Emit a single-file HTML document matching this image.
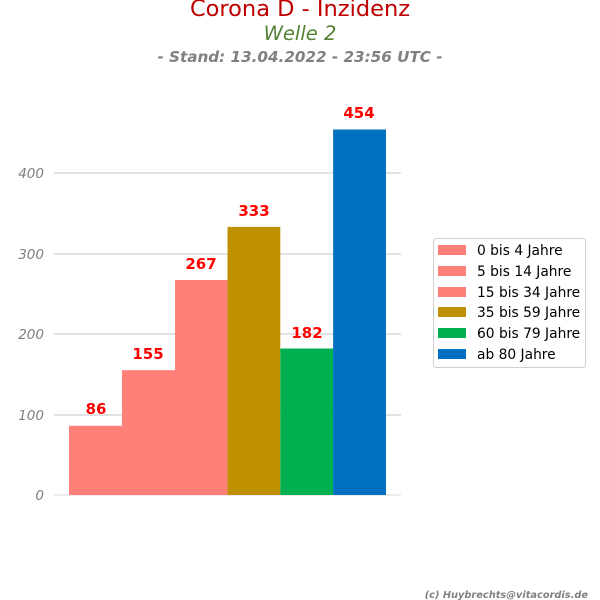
<html><body style="margin:0;background:#fff">
<svg width="600" height="600" xmlns="http://www.w3.org/2000/svg" font-family="DejaVu Sans, sans-serif">
<text x="300" y="16" text-anchor="middle" font-size="22.5" fill="#c00000">Corona D - Inzidenz</text>
<text x="300" y="40" text-anchor="middle" font-size="19.5" font-style="italic" fill="#548235">Welle 2</text>
<text x="300" y="62" text-anchor="middle" font-size="15.2" font-style="italic" font-weight="bold" fill="#808080">- Stand: 13.04.2022 - 23:56 UTC -</text>
<g stroke="#d9d9d9" stroke-width="1.5">
<line x1="54" x2="401" y1="173" y2="173"/><line x1="54" x2="401" y1="254" y2="254"/><line x1="54" x2="401" y1="334" y2="334"/><line x1="54" x2="401" y1="415" y2="415"/><line x1="54" x2="401" y1="495" y2="495" stroke-width="1"/>
</g>
<g font-size="13.5" font-style="italic" fill="#808080" text-anchor="end">
<text x="44" y="178">400</text><text x="44" y="259">300</text><text x="44" y="339">200</text><text x="44" y="420">100</text><text x="44" y="500">0</text>
</g>
<rect x="69" y="425.8" width="53" height="69.2" fill="#ff7f79"/>
<rect x="122" y="370.2" width="53" height="124.8" fill="#ff7f79"/>
<rect x="175" y="280" width="52.5" height="215" fill="#ff7f79"/>
<rect x="227.5" y="226.9" width="52.8" height="268.1" fill="#bf9000"/>
<rect x="280.3" y="348.5" width="52.8" height="146.5" fill="#00b050"/>
<rect x="333.1" y="129.5" width="52.9" height="365.5" fill="#0070c0"/>
<g font-size="15" font-weight="bold" fill="#ff0000" text-anchor="middle">
<text x="96" y="414">86</text><text x="148" y="359">155</text><text x="201" y="269">267</text><text x="254" y="216">333</text><text x="307" y="338">182</text><text x="359" y="118">454</text>
</g>
<rect x="433.5" y="238.5" width="152" height="129" rx="3" fill="#fff" stroke="#d0d0d0"/>
<rect x="438" y="245" width="28" height="10" fill="#ff7f79"/>
<rect x="438" y="266" width="28" height="10" fill="#ff7f79"/>
<rect x="438" y="287" width="28" height="10" fill="#ff7f79"/>
<rect x="438" y="307" width="28" height="10" fill="#bf9000"/>
<rect x="438" y="328" width="28" height="10" fill="#00b050"/>
<rect x="438" y="349" width="28" height="10" fill="#0070c0"/>
<g font-size="13.8" fill="#000">
<text x="477" y="255">0 bis 4 Jahre</text><text x="477" y="276">5 bis 14 Jahre</text><text x="477" y="297">15 bis 34 Jahre</text><text x="477" y="317">35 bis 59 Jahre</text><text x="477" y="338">60 bis 79 Jahre</text><text x="477" y="359">ab 80 Jahre</text>
</g>
<text x="588" y="598" text-anchor="end" font-size="9.8" font-style="italic" font-weight="bold" fill="#808080">(c) Huybrechts@vitacordis.de</text>
</svg>
</body></html>
